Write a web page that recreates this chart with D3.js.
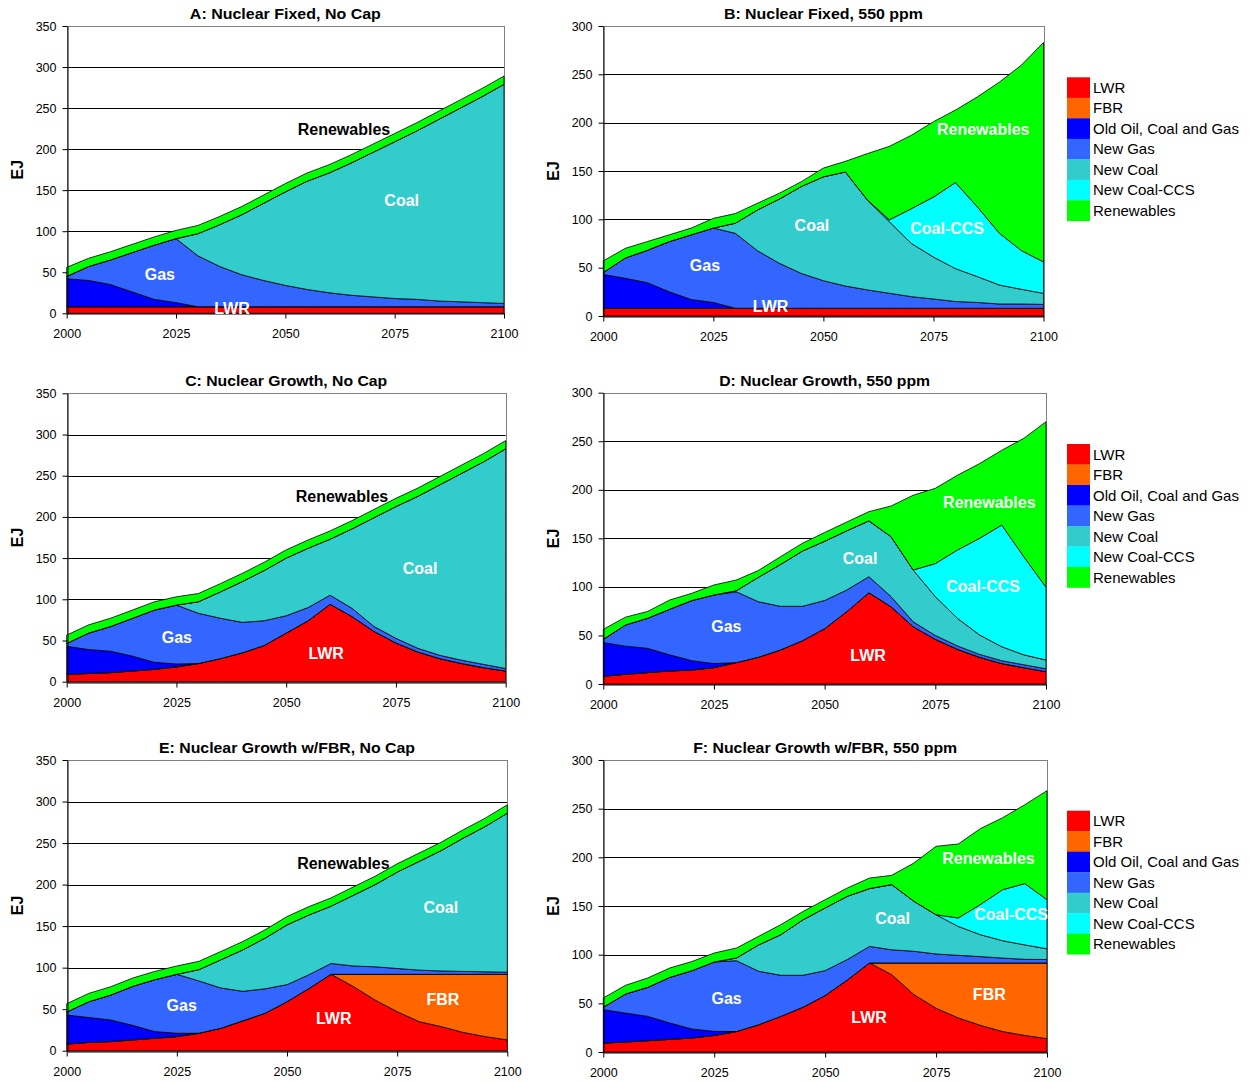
<!DOCTYPE html>
<html>
<head>
<meta charset="utf-8">
<script src="https://cdn.jsdelivr.net/npm/d3@7"></script>
<style>
  body { margin: 0; background: #fff; }
  svg text { font-family: Arial, "Liberation Sans", sans-serif; }
  .tick text { font-size: 12.5px; fill: #000; }
  .title { font-size: 15.5px; font-weight: bold; }
  .ylab { font-size: 16px; font-weight: bold; }
  .area-label { font-size: 16px; font-weight: bold; }
  .legend text { font-size: 15px; }
</style>
</head>
<body>
<svg id="chart" width="1258" height="1082"></svg>
<script>
// years, every 5 years
const years = d3.range(2000, 2101, 5);
const seriesNames = ["LWR", "FBR", "Old Oil, Coal and Gas", "New Gas", "New Coal", "New Coal-CCS", "Renewables"];
const seriesColors = ["#ff0000", "#ff6600", "#0000ff", "#3366ff", "#33cccc", "#00ffff", "#00ff00"];
const xTicks = [2000, 2025, 2050, 2075, 2100];
const zeros = years.map(() => 0);

// A: Nuclear Fixed, No Cap
const aLWR  = [8,8,8,8,8,8,8,8,8,8,8,8,8,8,8,8,8,8,8,8,8];
const aOld  = [34,32,27,18,9,5,0,0,0,0,0,0,0,0,0,0,0,0,0,0,0];
const aGas  = [3,17,30,48,66,78,62,49,39,32,26,21,17,14,12,10,9,7,6,5,4];
const aCoal = [0,0,0,0,0,0,27,51,73,94,114,132,146,161,176,191,205,221,236,251,267];
const aRen  = [11,10,10,10,10,10,10,10,10,10,10,10,10,10,10,10,10,10,10,10,10];

// B: Nuclear Fixed, 550 ppm
const bLWR  = [8,8,8,8,8,8,8,8,8,8,8,8,8,8,8,8,8,8,8,8,8];
const bOld  = [35,31,26.5,17,9,6,0,0,0,0,0,0,0,0,0,0,0,0,0,0,0];
const bGas  = [2,21,33.5,52,67,77,77.5,59.6,46.5,36,28.5,23,19,15.5,12,9.6,7,6,4.4,4.4,4];
const bCoal = [0,0,0,0,0,0,10.5,42,66.5,90,107.5,118,93,74,55,43.4,34,26.7,19.6,15.2,11.4];
const bCCS  = [0,0,0,0,0,0,0,0,0,0,0,0,0,2,36,62,89,72,53.5,40,32.6];
const bRen  = [12,10,9,7,7,10,10,7,6,5,9,11,48,76,76,78,75,114,156.5,192,227];

// C: Nuclear Growth, No Cap
const cLWR  = [9,10,11,13,15,18,22,28,35,44,59,74,94,79,61,47,36,28,22,17,13];
const cOld  = [34,29,26,18,8.5,3.5,0,0,0,0,0,0,0,0,0,0,0,0,0,0,0];
const cGas  = [3.5,20,30,46,63.5,71.5,61,49,37,30,21,16,11,10,6,5.6,4.5,4,4,4,3];
const cCoal = [0,0,0,0,0,0,14,32,49.5,61,70,72,68,96.5,132,160,184.5,207,227,246,266.6];
const cRen  = [10,10,10,10,10,10,10,10,10,10,10,10,10,10,10,10,10,10,10,10,10];

// D: Nuclear Growth, 550 ppm
const dLWR  = [8,10,11.7,13.4,14.4,16.8,22,27.5,35,44.6,57,74.5,94,79.6,59,46,35.7,27.5,21,16.8,12.7];
const dOld  = [34.6,29,25,16.6,9.6,4.2,0,0,0,0,0,0,0,0,0,0,0,0,0,0,0];
const dGas  = [3.4,21.8,31,47,62,70.7,73,57.3,45,35.4,29,22.3,16.5,10.4,5,4,3.5,3,3,3,3];
const dCoal = [0,0,0,0,0,0,1,25,43,57,61,61,57.5,61.7,53.4,40,28.4,20,14.4,10.2,9];
const dCCS  = [0,0,0,0,0,0,0,0,0,0,0,0,0,0,0,34,70.4,99.5,125.3,101,75];
const dRen  = [10.3,8,7,9.5,7.4,10.3,11,7,8,8,9,9,9.5,31.6,77,77.5,77,77,77,122,170.4];

// E: Nuclear Growth w/FBR, No Cap
const eLWR  = [8,10,11,13,15,17,21,27,36,45,59,75,92,77.5,61,47,35,29,22,17,13];
const eFBR  = [0,0,0,0,0,0,0,0,0,0,0,0,0,14.5,31,45,57,63,70,75,79];
const eOld  = [35,30,26,17.5,8,4,0,0,0,0,0,0,0,0,0,0,0,0,0,0,0];
const eGas  = [3.5,19,30,47,62.5,71,63,48.5,35.5,29.5,20.5,16.5,13,10,9,7,5,4,3.5,3,2.5];
const eCoal = [0,0,0,0,0,0,13.6,34,50,61,72,72,69,85,99,116,131,145,160.5,175,191.5];
const eRen  = [10,10,10,10,10,10,10,10,10,10,10,10,10,10,10,10,10,10,10,10,10];

// F: Nuclear Growth w/FBR, 550 ppm
const fLWR  = [9.2,10.3,11.6,13,14.4,17,21,28,36.6,46,58,74,91.5,79.5,59,45,35,27.4,21,17,13.7];
const fFBR  = [0,0,0,0,0,0,0,0,0,0,0,0,0,12,32.5,46.5,56.5,64.1,70.5,74.5,77.8];
const fOld  = [34.3,29.7,25,16.8,9.2,4.2,0,0,0,0,0,0,0,0,0,0,0,0,0,0,0];
const fGas  = [2.5,19.6,29.8,46.9,60,71.3,72.8,55,42.2,32.8,25.6,21,17,13.5,12,9.2,7.8,6.5,5,3.7,3.5];
const fCoal = [0,0,0,0,0,0,2.8,27,41.7,57,64.4,65,59.4,67,51.4,40.3,29.7,22.5,17.8,14.8,11];
const fCCS  = [0,0,0,0,0,0,0,0,0,0,0,0,0,0,0,0,8.7,31,52.4,63,50.5];
const fRen  = [9.5,8.9,9.6,9.6,9.4,9.2,10.2,8.8,10.3,8.5,8.5,8.5,10.8,9.5,39.2,70.3,76,78,74,81,112];

const panels = [
  { title: "A: Nuclear Fixed, No Cap", titleW: 191, yMax: 350,
    box: {l: 66.7, r: 504, t: 26, b: 313.3},
    series: [aLWR, zeros, aOld, aGas, aCoal, zeros, aRen],
    labels: [["Renewables", 2063.4, 224.7, "#000"], ["Coal", 2076.6, 138, "#fff"], ["Gas", 2021.3, 47.9, "#fff"], ["LWR", 2037.8, 5.8, "#fff"]] },
  { title: "B: Nuclear Fixed, 550 ppm", titleW: 199, yMax: 300,
    box: {l: 603.3, r: 1043.5, t: 26, b: 316}, legendTop: 77.3,
    series: [bLWR, zeros, bOld, bGas, bCoal, bCCS, bRen],
    labels: [["Renewables", 2086.3, 193.4, "#fff"], ["Coal", 2047.4, 93.4, "#fff"], ["Coal-CCS", 2078.1, 91.3, "#fff"], ["Gas", 2023.1, 52, "#fff"], ["LWR", 2038, 10.3, "#fff"]] },
  { title: "C: Nuclear Growth, No Cap", titleW: 202, yMax: 350,
    box: {l: 66.7, r: 505.7, t: 393.3, b: 681.7},
    series: [cLWR, zeros, cOld, cGas, cCoal, zeros, cRen],
    labels: [["Renewables", 2062.7, 225.4, "#000"], ["Coal", 2080.5, 137.6, "#fff"], ["Gas", 2025.1, 53.9, "#fff"], ["LWR", 2059.1, 34.5, "#fff"]] },
  { title: "D: Nuclear Growth, 550 ppm", titleW: 211, yMax: 300,
    box: {l: 603.3, r: 1046, t: 392.7, b: 684}, legendTop: 444,
    series: [dLWR, zeros, dOld, dGas, dCoal, dCCS, dRen],
    labels: [["Renewables", 2087.2, 187.1, "#fff"], ["Coal", 2058, 129.5, "#fff"], ["Coal-CCS", 2085.8, 100.9, "#fff"], ["Gas", 2027.8, 59, "#fff"], ["LWR", 2059.8, 29.9, "#fff"]] },
  { title: "E: Nuclear Growth w/FBR, No Cap", titleW: 256, yMax: 350,
    box: {l: 66.7, r: 507.3, t: 760, b: 1050.7},
    series: [eLWR, eFBR, eOld, eGas, eCoal, zeros, eRen],
    labels: [["Renewables", 2062.8, 226, "#000"], ["Coal", 2084.9, 173, "#fff"], ["Gas", 2026.1, 54.7, "#fff"], ["LWR", 2060.6, 38.5, "#fff"], ["FBR", 2085.4, 61.4, "#fff"]] },
  { title: "F: Nuclear Growth w/FBR, 550 ppm", titleW: 264, yMax: 300,
    box: {l: 603.3, r: 1047, t: 760, b: 1052}, legendTop: 810.7,
    series: [fLWR, fFBR, fOld, fGas, fCoal, fCCS, fRen],
    labels: [["Renewables", 2086.8, 199.3, "#fff"], ["Coal", 2065.2, 137.7, "#fff"], ["Coal-CCS", 2091.9, 141.8, "#fff"], ["Gas", 2027.8, 55.5, "#fff"], ["LWR", 2059.9, 35.7, "#fff"], ["FBR", 2087, 58.9, "#fff"]] }
];

const svg = d3.select("#chart");

function drawPanel(p) {
  const g = svg.append("g");
  const {l, r, t, b} = p.box;
  const x = d3.scaleLinear().domain([2000, 2100]).range([l, r]);
  const y = d3.scaleLinear().domain([0, p.yMax]).range([b, t]);

  // gridlines (behind the areas)
  g.selectAll("line.grid")
    .data(d3.range(50, p.yMax, 50))
    .enter().append("line")
    .attr("x1", l).attr("x2", r)
    .attr("y1", d => Math.round(y(d)) + 0.5)
    .attr("y2", d => Math.round(y(d)) + 0.5)
    .attr("stroke", "#000")
    .attr("stroke-width", 1);

  // plot border, grey
  g.append("rect")
    .attr("x", Math.round(l) + 0.5).attr("y", Math.round(t) + 0.5)
    .attr("width", Math.round(r) - Math.round(l)).attr("height", Math.round(b) - Math.round(t))
    .attr("fill", "none")
    .attr("stroke", "#808080");

  const rows = years.map((yr, i) => {
    const row = {year: yr};
    seriesNames.forEach((n, k) => { row[n] = p.series[k][i]; });
    return row;
  });
  const stacked = d3.stack().keys(seriesNames)(rows);

  const area = d3.area()
    .x(d => x(d.data.year))
    .y0(d => y(d[0]))
    .y1(d => y(d[1]));

  g.selectAll("path.layer")
    .data(stacked)
    .enter().append("path")
    .attr("d", area)
    .attr("fill", (d, i) => seriesColors[i])
    .attr("stroke", "#000")
    .attr("stroke-width", 0.8)
    .attr("stroke-linejoin", "round");

  // axes
  const yAxis = d3.axisLeft(y)
    .tickValues(d3.range(0, p.yMax + 1, 50))
    .tickSize(5).tickSizeOuter(0).tickPadding(6);
  const ya = g.append("g").attr("transform", `translate(${Math.round(l) + 0.5},0)`).call(yAxis);
  ya.select(".domain").attr("stroke", "#000");

  const xAxis = d3.axisBottom(x)
    .tickValues(xTicks).tickFormat(d3.format("d"))
    .tickSize(5).tickSizeOuter(0).tickPadding(10.5);
  const xa = g.append("g").attr("transform", `translate(0,${Math.round(b) + 0.5})`).call(xAxis);
  xa.select(".domain").attr("stroke", "#000");

  // title
  g.append("text")
    .attr("class", "title")
    .attr("x", (l + r) / 2)
    .attr("y", t - 7)
    .attr("text-anchor", "middle")
    .attr("textLength", p.titleW)
    .attr("lengthAdjust", "spacingAndGlyphs")
    .text(p.title);

  // y axis label
  g.append("text")
    .attr("class", "ylab")
    .attr("transform", `translate(${l - 49.5},${(t + b) / 2}) rotate(-90)`)
    .attr("text-anchor", "middle")
    .attr("dy", "0.35em")
    .text("EJ");

  // labels inside the areas
  g.selectAll("text.area-label")
    .data(p.labels)
    .enter().append("text")
    .attr("class", "area-label")
    .attr("x", d => x(d[1]))
    .attr("y", d => y(d[2]))
    .attr("dy", "0.36em")
    .attr("text-anchor", "middle")
    .attr("fill", d => d[3])
    .text(d => d[0]);

  // legend (right column only)
  if (p.legendTop !== undefined) {
    const lg = g.append("g").attr("class", "legend");
    const rowH = 20.5;
    lg.selectAll("rect")
      .data(seriesNames)
      .enter().append("rect")
      .attr("x", 1067).attr("y", (d, i) => p.legendTop + i * rowH)
      .attr("width", 23).attr("height", rowH + 0.3)
      .attr("fill", (d, i) => seriesColors[i]);
    lg.selectAll("text")
      .data(seriesNames)
      .enter().append("text")
      .attr("x", 1093)
      .attr("y", (d, i) => p.legendTop + i * rowH + rowH / 2)
      .attr("dy", "0.36em")
      .text(d => d);
  }
}

panels.forEach(drawPanel);
</script>
</body>
</html>
